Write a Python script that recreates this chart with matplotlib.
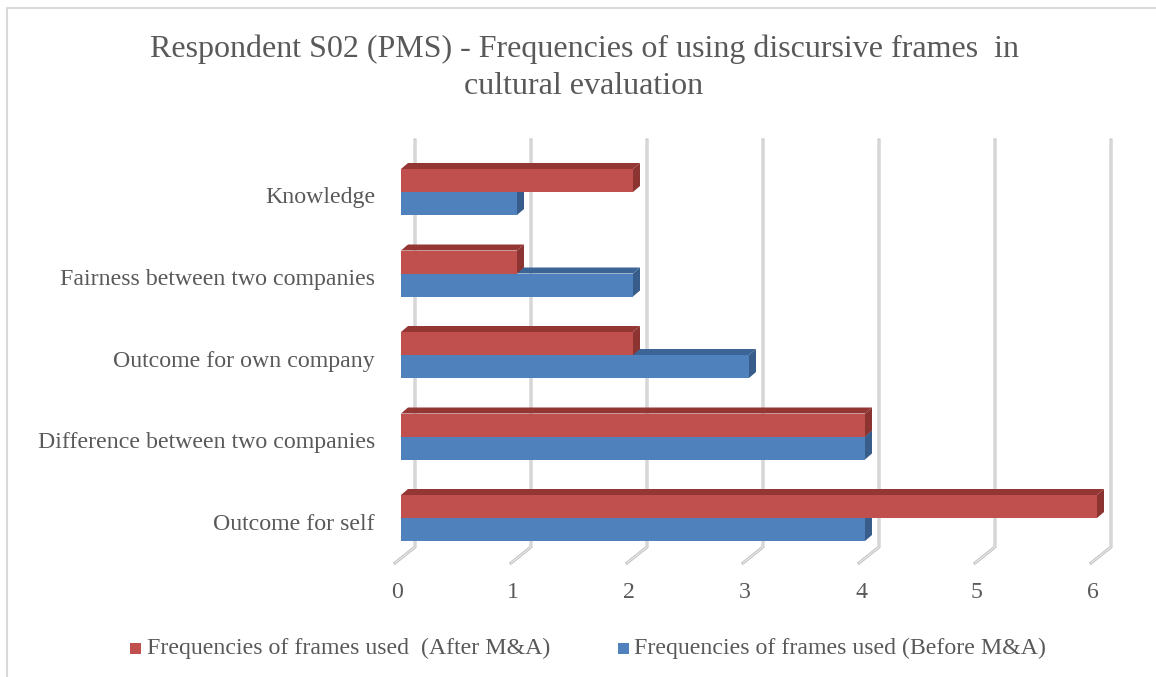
import matplotlib.pyplot as plt
from matplotlib.patches import Polygon, Rectangle
from matplotlib.lines import Line2D

# frame categories, top to bottom
categorias = ["Knowledge", "Fairness between two companies", "Outcome for own company",
              "Difference between two companies", "Outcome for self"]
depois = [2, 1, 2, 4, 6]   # after M&A
antes = [1, 2, 3, 4, 4]    # before M&A
nome_depois = "Frequencies of frames used  (After M&A)"
nome_antes = "Frequencies of frames used (Before M&A)"
ticks_x = [0, 1, 2, 3, 4, 5, 6]
titulo = "Respondent S02 (PMS) - Frequencies of using discursive frames  in\ncultural evaluation"

W, H = 1156, 677
fig = plt.figure(figsize=(W / 100, H / 100), dpi=100)

# scale: 116 px per unit, zero at x=401; categories 81.5 px apart, first at y=192
px_x, x0 = 116.0, 401.0
px_y, y0 = 81.5, 192.0
left, right, top, bottom = 380, 1130, 130, 570
ax = fig.add_axes([left / W, 1 - bottom / H, (right - left) / W, (bottom - top) / H])
ax.set_xlim((left - x0) / px_x, (right - x0) / px_x)
ax.set_ylim((bottom - y0) / px_y, (top - y0) / px_y)
ax.axis("off")

cinza = "#595959"
serif = "Liberation Serif"
fs = 17.2

# 3D depth offsets
dx = 7 / px_x
dy = -6 / px_y
h = 23 / px_y

# back wall gridlines with floor diagonals
g_top = (140 - y0) / px_y
g_bot = (547 - y0) / px_y
g_floor = (563 - y0) / px_y
for v in ticks_x:
    xb = v + 14 / px_x
    xf = v - 6 / px_x
    ax.add_line(Line2D([xf, xb, xb], [g_floor, g_bot, g_top], color="#c4c4c4", lw=2.2, zorder=1,
                       solid_joinstyle="miter"))
    ax.add_line(Line2D([xf, xb, xb], [g_floor, g_bot, g_top], color="#ececec", lw=0.7, zorder=1.1))
    ax.text(v - 4 / px_x, (592 - y0) / px_y, str(v), ha="center", va="center",
            fontsize=fs, color=cinza, family=serif, clip_on=False)


def barra_3d(y_topo, valor, frente, topo, lado, z):
    ax.barh(y_topo + h / 2, valor, height=h, left=0, color=frente, zorder=z)
    if valor <= 0:
        return
    ax.add_patch(Polygon([(0, y_topo), (valor, y_topo), (valor + dx, y_topo + dy), (dx, y_topo + dy)],
                         closed=True, facecolor=topo, edgecolor="none", zorder=z))
    ax.add_patch(Polygon([(valor, y_topo), (valor + dx, y_topo + dy), (valor + dx, y_topo + h + dy),
                          (valor, y_topo + h)], closed=True, facecolor=lado, edgecolor="none", zorder=z))


for i, cat in enumerate(categorias):
    barra_3d(i, antes[i], "#4F81BD", "#3C6496", "#385D8A", 3 + i * 0.01)
    barra_3d(i - h, depois[i], "#C0504D", "#943634", "#8C3431", 4 + i * 0.01)
    ax.text((375 - x0) / px_x, i + 6 / px_y, cat, ha="right", va="center",
            fontsize=fs, color=cinza, family=serif, clip_on=False)

# title
fig.text(584 / W, 1 - 68 / H, titulo, ha="center", va="center", fontsize=23, color=cinza,
         family=serif, linespacing=1.38)

# legend
for xq, xt, cor, nome in [(130, 147, "#C0504D", nome_depois), (618, 634, "#4F81BD", nome_antes)]:
    fig.patches.append(Rectangle((xq / W, 1 - 654 / H), 11 / W, 11 / H, transform=fig.transFigure,
                                 facecolor=cor, edgecolor="none"))
    fig.text(xt / W, 1 - 648 / H, nome, ha="left", va="center", fontsize=fs, color=cinza, family=serif)

# chart border (left and top)
fig.add_artist(Line2D([7 / W, 7 / W, 1], [0, 1 - 8 / H, 1 - 8 / H], transform=fig.transFigure,
                      color="#d9d9d9", lw=1.5))

fig.savefig("out.png", dpi=100, facecolor="white")
